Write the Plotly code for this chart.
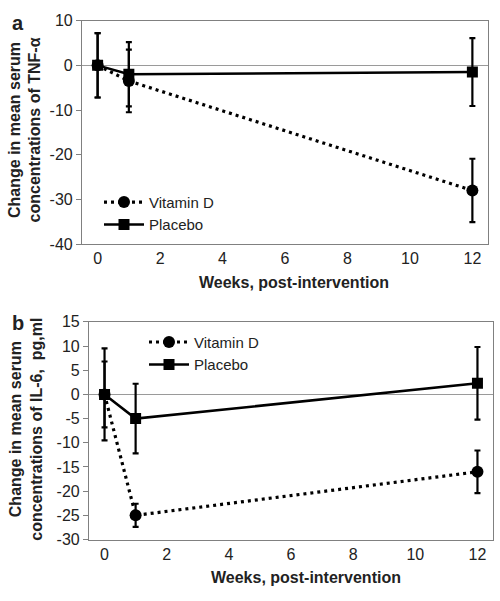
import plotly.graph_objects as go

weeks = [0, 1, 12]
x_ticks = [0, 2, 4, 6, 8, 10, 12]
y_ticks_a = [10, 0, -10, -20, -30, -40]
y_ticks_a_text = ["10", "0", "-10", "-20", "-30", "-40"]
y_ticks_b = [15, 10, 5, 0, -5, -10, -15, -20, -25, -30]
y_ticks_b_text = ["15", "10", "5", "0", "-5", "-10", "-15", "-20", "-25", "-30"]

tnf_vitd = [0, -3.5, -28.0]
tnf_vitd_err = [7.2, 7.0, 7.1]
tnf_plac = [0, -2.0, -1.5]
tnf_plac_err = [7.2, 7.2, 7.6]

il6_vitd = [0, -25.0, -16.0]
il6_vitd_err = [9.5, 2.4, 4.4]
il6_plac = [0, -5.0, 2.3]
il6_plac_err = [6.8, 7.2, 7.5]

FONT = "Liberation Sans, Arial, sans-serif"
W, H = 500, 601

def px_x(p):
    return p / W

def px_y(p):
    return (H - p) / H

fig = go.Figure()

def add_pair(vitd, vitd_err, plac, plac_err, xa, ya, legend):
    fig.add_trace(go.Scatter(
        x=weeks, y=vitd, name="Vitamin D", mode="lines+markers",
        xaxis=xa, yaxis=ya, legend=legend,
        line=dict(color="black", width=3.2, dash="3px,4px"),
        marker=dict(symbol="circle", size=12, color="black"),
        error_y=dict(type="data", array=vitd_err, color="black", thickness=2.2, width=3),
    ))
    fig.add_trace(go.Scatter(
        x=weeks, y=plac, name="Placebo", mode="lines+markers",
        xaxis=xa, yaxis=ya, legend=legend,
        line=dict(color="black", width=2.5),
        marker=dict(symbol="square", size=11, color="black"),
        error_y=dict(type="data", array=plac_err, color="black", thickness=2.2, width=3),
    ))

add_pair(tnf_vitd, tnf_vitd_err, tnf_plac, tnf_plac_err, "x", "y", "legend")
add_pair(il6_vitd, il6_vitd_err, il6_plac, il6_plac_err, "x2", "y2", "legend2")

axis_common = dict(
    showline=True, mirror=True, linecolor="#808080", linewidth=1.2,
    showgrid=False, tickfont=dict(family=FONT, size=16, color="#222"),
)

fig.update_layout(
    width=W, height=H,
    margin=dict(l=0, r=0, t=0, b=0),
    paper_bgcolor="white", plot_bgcolor="white",
    font=dict(family=FONT, color="#222"),
    showlegend=True,
    xaxis=dict(domain=[px_x(82), px_x(488)], anchor="y", range=[-0.5, 12.5],
               tickvals=x_ticks, ticks="", zeroline=False, **axis_common),
    yaxis=dict(domain=[px_y(243), px_y(13)], anchor="x", range=[-40, 10],
               tickvals=y_ticks_a, ticktext=y_ticks_a_text,
               ticks="outside", ticklen=5, tickcolor="#808080",
               zeroline=True, zerolinecolor="#9a9a9a", zerolinewidth=1.2, **axis_common),
    xaxis2=dict(domain=[px_x(89), px_x(493)], anchor="y2", range=[-0.5, 12.5],
                tickvals=x_ticks, ticks="", zeroline=False, **axis_common),
    yaxis2=dict(domain=[px_y(547), px_y(323)], anchor="x2", range=[-30, 15],
                tickvals=y_ticks_b, ticktext=y_ticks_b_text,
                ticks="outside", ticklen=5, tickcolor="#808080",
                zeroline=True, zerolinecolor="#9a9a9a", zerolinewidth=1.2, **axis_common),
    legend=dict(x=px_x(99), y=px_y(183), xanchor="left", yanchor="top",
                bgcolor="rgba(0,0,0,0)", font=dict(family=FONT, size=15, color="#222"),
                tracegroupgap=0, itemwidth=40),
    legend2=dict(x=px_x(144), y=px_y(327), xanchor="left", yanchor="top",
                 bgcolor="rgba(0,0,0,0)", font=dict(family=FONT, size=15, color="#222"),
                 tracegroupgap=0, itemwidth=40),
)

annotations = [
    dict(text="<b>a</b>", x=px_x(10), y=px_y(15), xanchor="left", yanchor="middle",
         font=dict(size=20)),
    dict(text="<b>b</b>", x=px_x(10), y=px_y(324), xanchor="left", yanchor="middle",
         font=dict(size=20)),
    dict(text="<b>Change in mean serum<br>concentrations of TNF-α</b>", x=px_x(25), y=px_y(126),
         textangle=-90, xanchor="center", yanchor="middle", font=dict(size=16)),
    dict(text="<b>Change in mean serum<br>concentrations of IL-6,  pg,ml</b>", x=px_x(26), y=px_y(434),
         textangle=-90, xanchor="center", yanchor="middle", font=dict(size=16)),
    dict(text="<b>Weeks, post-intervention</b>", x=px_x(294), y=px_y(283),
         xanchor="center", yanchor="middle", font=dict(size=16)),
    dict(text="<b>Weeks, post-intervention</b>", x=px_x(306), y=px_y(586),
         xanchor="center", yanchor="middle", font=dict(size=16)),
]
for a in annotations:
    a.update(xref="paper", yref="paper", showarrow=False)
    a["font"].update(family=FONT, color="#222")
fig.update_layout(annotations=annotations)

fig.write_html("out.html", config={"displayModeBar": False},
               post_script="document.body.style.margin='0';")
